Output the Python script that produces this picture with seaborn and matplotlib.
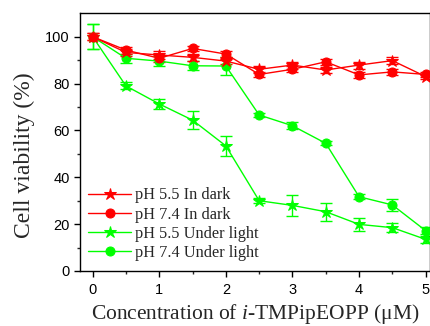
import numpy as np
import pandas as pd
import matplotlib
matplotlib.use("Agg")
import matplotlib.pyplot as plt
import seaborn as sns

conc = [0, 0.5, 1, 1.5, 2, 2.5, 3, 3.5, 4, 4.5, 5]
ph55_dark = [100, 93.3, 92.2, 91.2, 89.6, 86.1, 87.9, 85.8, 87.9, 89.8, 83.0]
ph55_dark_err = [1.5, 1.5, 1.5, 1.5, 1.2, 1.5, 1.5, 1.2, 1.5, 1.5, 1.2]
ph74_dark = [100, 94.3, 90.8, 95.0, 92.6, 83.9, 86.1, 89.3, 83.7, 85.0, 83.9]
ph74_dark_err = [1.5, 1.5, 1.5, 1.2, 1.2, 1.2, 1.2, 1.2, 1.2, 1.2, 1.2]
ph55_light = [100, 79.0, 71.3, 64.4, 53.4, 30.0, 28.0, 25.3, 19.9, 18.5, 13.5]
ph55_light_err = [5.3, 1.5, 2.2, 4.0, 4.1, 1.0, 4.5, 3.8, 2.7, 1.8, 1.5]
ph74_light = [100, 90.8, 89.6, 87.6, 87.5, 66.6, 62.0, 54.5, 31.7, 28.2, 17.2]
ph74_light_err = [5.3, 2.0, 2.0, 2.0, 3.8, 1.0, 1.5, 0.8, 1.0, 2.7, 1.5]

labels = ["pH 5.5 In dark", "pH 7.4 In dark", "pH 5.5 Under light", "pH 7.4 Under light"]
series = [ph55_dark, ph74_dark, ph55_light, ph74_light]
errs = [ph55_dark_err, ph74_dark_err, ph55_light_err, ph74_light_err]
colors = ["#FF0000", "#FF0000", "#00FF00", "#00FF00"]
markers = ["*", "o", "*", "o"]
msizes = [9, 6.5, 9, 6.5]

sns.set_style("ticks")
plt.rcParams["font.family"] = ["Liberation Serif", "DejaVu Serif"]
plt.rcParams["mathtext.fontset"] = "custom"
plt.rcParams["mathtext.rm"] = "Liberation Serif"
plt.rcParams["mathtext.it"] = "Liberation Serif:italic"

fig = plt.figure(figsize=(4.3, 3.26), dpi=100)
ax = fig.add_axes([80/430, 1-271/326, 350/430, (271-13.3)/326])

df = pd.DataFrame({
    "conc": np.tile(conc, 4),
    "val": np.concatenate(series),
    "series": np.repeat(labels, len(conc)),
})

order = [3, 2, 1, 0]
for i in order:
    sub = df[df["series"] == labels[i]]
    ax.errorbar(conc, series[i], yerr=errs[i], fmt="none", ecolor=colors[i],
                elinewidth=1, capsize=4, capthick=1, zorder=2 + (4 - i) * 0.1)
    sns.lineplot(data=sub, x="conc", y="val", ax=ax, color=colors[i],
                 marker=markers[i], markersize=msizes[i], markeredgecolor=colors[i],
                 linewidth=1, label=labels[i], zorder=3 + (4 - i) * 0.1,
                 errorbar=None, sort=False)

handles, labs = ax.get_legend_handles_labels()
hmap = dict(zip(labs, handles))
leg = ax.legend([hmap[l] for l in labels], labels, loc="lower left",
                bbox_to_anchor=(0.005, 0.013), frameon=False, fontsize=11.7,
                handlelength=2.65, handletextpad=0.2, labelspacing=0.2,
                borderaxespad=0.0)

ax.set_xlim(-0.19, 5.065)
ax.set_ylim(0, 110)
ax.set_xticks([0, 1, 2, 3, 4, 5])
ax.set_xticks(np.arange(0.5, 5, 1), minor=True)
ax.set_yticks([0, 20, 40, 60, 80, 100])
ax.set_yticks([10, 30, 50, 70, 90], minor=True)
ax.tick_params(axis="both", which="major", direction="out", length=4, width=1,
               labelsize=10.5, colors="black")
ax.tick_params(axis="x", which="major", pad=5)
ax.tick_params(axis="both", which="minor", direction="out", length=2.5, width=1)
for lab in ax.get_xticklabels() + ax.get_yticklabels():
    lab.set_fontfamily("Liberation Sans")

for s in ["left", "bottom", "top", "right"]:
    ax.spines[s].set_visible(True)
    ax.spines[s].set_color("black")
    ax.spines[s].set_linewidth(1)

ax.set_xlabel("Concentration of $\\mathit{i}$-TMPipEOPP (\u03bcM)", fontsize=15.5, labelpad=3)
ax.set_ylabel("Cell viability (%)", fontsize=17, labelpad=5)
ax.yaxis.set_label_coords(-0.129, 0.45)

fig.savefig("out.png", dpi=100)
